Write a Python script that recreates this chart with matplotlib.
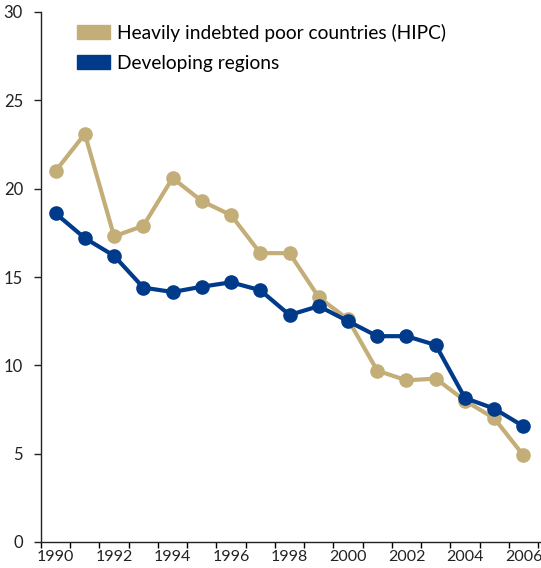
import numpy as np
import matplotlib.pyplot as plt
from matplotlib.patches import Patch

years = list(range(1990, 2007))
hipc = [21.0, 23.1, 17.3, 17.9, 20.6, 19.3, 18.5, 16.35, 16.35, 13.85,
        12.6, 9.7, 9.15, 9.25, 8.0, 7.0, 4.9]
developing = [18.6, 17.2, 16.2, 14.4, 14.15, 14.45, 14.7, 14.25, 12.85, 13.35,
              12.5, 11.65, 11.65, 11.15, 8.15, 7.55, 6.55]
tick_years = list(range(1990, 2007, 2))

beige = '#C4AE78'
blue = '#003A8A'

plt.rcParams['font.family'] = ['Lato', 'DejaVu Sans']

fig = plt.figure(figsize=(5.41, 5.68), dpi=100)
ax = fig.add_axes([41 / 541, 26 / 568, 500 / 541, 530 / 568])

ax.plot(years, hipc, color=beige, lw=3, marker='o', ms=9.5, zorder=3)
ax.plot(years, developing, color=blue, lw=3, marker='o', ms=9.5, zorder=4)

ax.set_ylim(0, 30)
ax.set_xlim(1989.5, 2006.6)
ax.set_yticks(range(0, 31, 5))
ax.set_xticks(tick_years)
ax.set_xticks(np.arange(1989.5, 2007, 1), minor=True)
ax.tick_params(axis='x', which='major', length=0, labelsize=11.5, pad=6, colors='#222222')
ax.tick_params(axis='x', which='minor', length=4, width=1, direction='out')
ax.tick_params(axis='y', length=5, width=1, direction='out', labelsize=12, pad=8, colors='#222222')
for s in ['top', 'right']:
    ax.spines[s].set_visible(False)
for s in ['left', 'bottom']:
    ax.spines[s].set_linewidth(1)
    ax.spines[s].set_color('#222222')

handles = [Patch(color=beige, label='Heavily indebted poor countries (HIPC)'),
           Patch(color=blue, label='Developing regions')]
ax.legend(handles=handles, loc='upper left', bbox_to_anchor=(0.038, 1.01),
          frameon=False, fontsize=13.8, handlelength=1.7, handleheight=0.75,
          handletextpad=0.35, labelspacing=0.68)

fig.savefig('out.png', dpi=100)
